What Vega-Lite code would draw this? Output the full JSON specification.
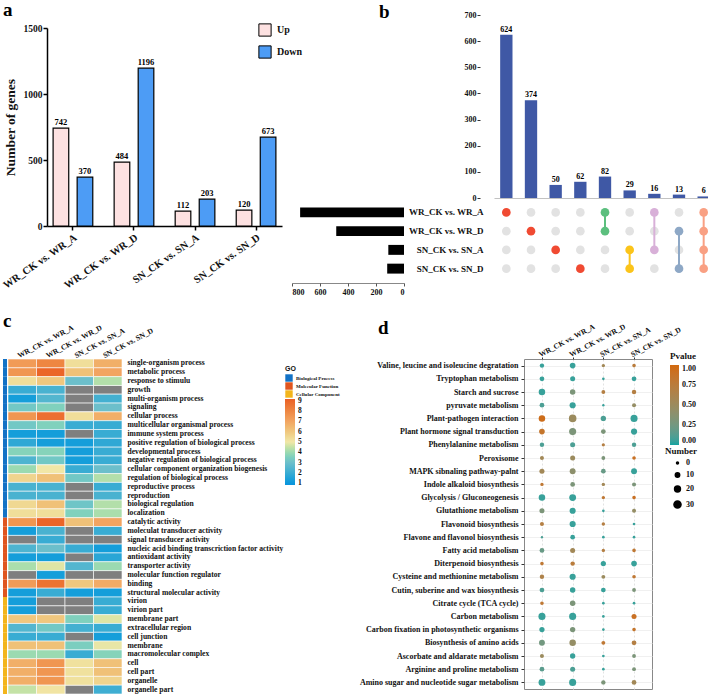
{
"$schema":"https://vega.github.io/schema/vega-lite/v6.json",
"padding":{"left":1,"top":0,"right":0,"bottom":0},
"datasets":{
"deg":[
{"comp":"WR_CK vs. WR_A","dir":"Up","n":742},{"comp":"WR_CK vs. WR_A","dir":"Down","n":370},
{"comp":"WR_CK vs. WR_D","dir":"Up","n":484},{"comp":"WR_CK vs. WR_D","dir":"Down","n":1196},
{"comp":"SN_CK vs. SN_A","dir":"Up","n":112},{"comp":"SN_CK vs. SN_A","dir":"Down","n":203},
{"comp":"SN_CK vs. SN_D","dir":"Up","n":120},{"comp":"SN_CK vs. SN_D","dir":"Down","n":673}],
"up":[
{"id":1,"count":624,"WR_CK vs. WR_A":1,"WR_CK vs. WR_D":0,"SN_CK vs. SN_A":0,"SN_CK vs. SN_D":0},
{"id":2,"count":374,"WR_CK vs. WR_A":0,"WR_CK vs. WR_D":1,"SN_CK vs. SN_A":0,"SN_CK vs. SN_D":0},
{"id":3,"count":50,"WR_CK vs. WR_A":0,"WR_CK vs. WR_D":0,"SN_CK vs. SN_A":1,"SN_CK vs. SN_D":0},
{"id":4,"count":62,"WR_CK vs. WR_A":0,"WR_CK vs. WR_D":0,"SN_CK vs. SN_A":0,"SN_CK vs. SN_D":1},
{"id":5,"count":82,"WR_CK vs. WR_A":1,"WR_CK vs. WR_D":1,"SN_CK vs. SN_A":0,"SN_CK vs. SN_D":0},
{"id":6,"count":29,"WR_CK vs. WR_A":0,"WR_CK vs. WR_D":0,"SN_CK vs. SN_A":1,"SN_CK vs. SN_D":1},
{"id":7,"count":16,"WR_CK vs. WR_A":1,"WR_CK vs. WR_D":0,"SN_CK vs. SN_A":1,"SN_CK vs. SN_D":0},
{"id":8,"count":13,"WR_CK vs. WR_A":0,"WR_CK vs. WR_D":1,"SN_CK vs. SN_A":0,"SN_CK vs. SN_D":1},
{"id":9,"count":6,"WR_CK vs. WR_A":1,"WR_CK vs. WR_D":1,"SN_CK vs. SN_A":1,"SN_CK vs. SN_D":1}],
"sets":[
{"set":"WR_CK vs. WR_A","size":742},{"set":"WR_CK vs. WR_D","size":484},
{"set":"SN_CK vs. SN_A","size":112},{"set":"SN_CK vs. SN_D","size":120}],
"links":[
{"id":5,"set":"WR_CK vs. WR_A","to":"WR_CK vs. WR_D"},
{"id":6,"set":"SN_CK vs. SN_A","to":"SN_CK vs. SN_D"},
{"id":7,"set":"WR_CK vs. WR_A","to":"SN_CK vs. SN_A"},
{"id":8,"set":"WR_CK vs. WR_D","to":"SN_CK vs. SN_D"},
{"id":9,"set":"WR_CK vs. WR_A","to":"SN_CK vs. SN_D"}],
"go":[
{"term":"single-organism process","cat":"Biological Process","WR_CK vs. WR_A":7.3,"WR_CK vs. WR_D":8,"SN_CK vs. SN_A":5.3,"SN_CK vs. SN_D":6.7},
{"term":"metabolic process","cat":"Biological Process","WR_CK vs. WR_A":7.5,"WR_CK vs. WR_D":9,"SN_CK vs. SN_A":6.2,"SN_CK vs. SN_D":7},
{"term":"response to stimulu","cat":"Biological Process","WR_CK vs. WR_A":5.3,"WR_CK vs. WR_D":6,"SN_CK vs. SN_A":3,"SN_CK vs. SN_D":4.3},
{"term":"growth","cat":"Biological Process","WR_CK vs. WR_A":2,"WR_CK vs. WR_D":2.3,"SN_CK vs. SN_A":null,"SN_CK vs. SN_D":null},
{"term":"multi-organism process","cat":"Biological Process","WR_CK vs. WR_A":1.3,"WR_CK vs. WR_D":2.5,"SN_CK vs. SN_A":null,"SN_CK vs. SN_D":2.2},
{"term":"signaling","cat":"Biological Process","WR_CK vs. WR_A":3.3,"WR_CK vs. WR_D":3.6,"SN_CK vs. SN_A":null,"SN_CK vs. SN_D":3},
{"term":"cellular process","cat":"Biological Process","WR_CK vs. WR_A":7.5,"WR_CK vs. WR_D":8.7,"SN_CK vs. SN_A":5.3,"SN_CK vs. SN_D":6.7},
{"term":"multicellular organismal process","cat":"Biological Process","WR_CK vs. WR_A":3.3,"WR_CK vs. WR_D":3.6,"SN_CK vs. SN_A":2,"SN_CK vs. SN_D":2},
{"term":"immune system process","cat":"Biological Process","WR_CK vs. WR_A":1.3,"WR_CK vs. WR_D":1.3,"SN_CK vs. SN_A":null,"SN_CK vs. SN_D":2},
{"term":"positive regulation of biological process","cat":"Biological Process","WR_CK vs. WR_A":1.8,"WR_CK vs. WR_D":1.3,"SN_CK vs. SN_A":1.3,"SN_CK vs. SN_D":1.8},
{"term":"developmental process","cat":"Biological Process","WR_CK vs. WR_A":3.7,"WR_CK vs. WR_D":3.7,"SN_CK vs. SN_A":1.3,"SN_CK vs. SN_D":2},
{"term":"negative regulation of biological process","cat":"Biological Process","WR_CK vs. WR_A":2.4,"WR_CK vs. WR_D":3.3,"SN_CK vs. SN_A":1.3,"SN_CK vs. SN_D":2},
{"term":"cellular component organization biogenesis","cat":"Biological Process","WR_CK vs. WR_A":4,"WR_CK vs. WR_D":5,"SN_CK vs. SN_A":2,"SN_CK vs. SN_D":3},
{"term":"regulation of biological process","cat":"Biological Process","WR_CK vs. WR_A":5.6,"WR_CK vs. WR_D":6.2,"SN_CK vs. SN_A":3.3,"SN_CK vs. SN_D":4.3},
{"term":"reproductive process","cat":"Biological Process","WR_CK vs. WR_A":2.3,"WR_CK vs. WR_D":2.3,"SN_CK vs. SN_A":null,"SN_CK vs. SN_D":2},
{"term":"reproduction","cat":"Biological Process","WR_CK vs. WR_A":2.3,"WR_CK vs. WR_D":2.3,"SN_CK vs. SN_A":null,"SN_CK vs. SN_D":2.3},
{"term":"biological regulation","cat":"Biological Process","WR_CK vs. WR_A":5.5,"WR_CK vs. WR_D":6.2,"SN_CK vs. SN_A":3.2,"SN_CK vs. SN_D":4.3},
{"term":"localization","cat":"Biological Process","WR_CK vs. WR_A":5.3,"WR_CK vs. WR_D":5.3,"SN_CK vs. SN_A":3.6,"SN_CK vs. SN_D":4.2},
{"term":"catalytic activity","cat":"Molecular Function","WR_CK vs. WR_A":7.5,"WR_CK vs. WR_D":9,"SN_CK vs. SN_A":6.2,"SN_CK vs. SN_D":7},
{"term":"moleculat transducer activity","cat":"Molecular Function","WR_CK vs. WR_A":1.3,"WR_CK vs. WR_D":2.3,"SN_CK vs. SN_A":null,"SN_CK vs. SN_D":2},
{"term":"signal transducer activity","cat":"Molecular Function","WR_CK vs. WR_A":null,"WR_CK vs. WR_D":2,"SN_CK vs. SN_A":null,"SN_CK vs. SN_D":null},
{"term":"nucleic acid binding transcriction factor activity","cat":"Molecular Function","WR_CK vs. WR_A":2.4,"WR_CK vs. WR_D":3,"SN_CK vs. SN_A":2,"SN_CK vs. SN_D":1.3},
{"term":"antioxidant activity","cat":"Molecular Function","WR_CK vs. WR_A":1.3,"WR_CK vs. WR_D":1.3,"SN_CK vs. SN_A":null,"SN_CK vs. SN_D":1.7},
{"term":"transporter activity","cat":"Molecular Function","WR_CK vs. WR_A":4.2,"WR_CK vs. WR_D":4.8,"SN_CK vs. SN_A":2.5,"SN_CK vs. SN_D":4},
{"term":"molecular function regulator","cat":"Molecular Function","WR_CK vs. WR_A":null,"WR_CK vs. WR_D":1.3,"SN_CK vs. SN_A":null,"SN_CK vs. SN_D":null},
{"term":"binding","cat":"Molecular Function","WR_CK vs. WR_A":7.3,"WR_CK vs. WR_D":8.6,"SN_CK vs. SN_A":6,"SN_CK vs. SN_D":6.8},
{"term":"structural molecular  activity","cat":"Molecular Function","WR_CK vs. WR_A":1.3,"WR_CK vs. WR_D":2,"SN_CK vs. SN_A":1.3,"SN_CK vs. SN_D":1.3},
{"term":"virion","cat":"Cellular Component","WR_CK vs. WR_A":1.3,"WR_CK vs. WR_D":null,"SN_CK vs. SN_A":null,"SN_CK vs. SN_D":2},
{"term":"virion part","cat":"Cellular Component","WR_CK vs. WR_A":1.3,"WR_CK vs. WR_D":null,"SN_CK vs. SN_A":null,"SN_CK vs. SN_D":2},
{"term":"membrane part","cat":"Cellular Component","WR_CK vs. WR_A":6,"WR_CK vs. WR_D":6,"SN_CK vs. SN_A":3.6,"SN_CK vs. SN_D":4.8},
{"term":"extracellular region","cat":"Cellular Component","WR_CK vs. WR_A":2.5,"WR_CK vs. WR_D":3.3,"SN_CK vs. SN_A":2.2,"SN_CK vs. SN_D":2},
{"term":"cell junction","cat":"Cellular Component","WR_CK vs. WR_A":2,"WR_CK vs. WR_D":2,"SN_CK vs. SN_A":null,"SN_CK vs. SN_D":1.3},
{"term":"membrane","cat":"Cellular Component","WR_CK vs. WR_A":6.2,"WR_CK vs. WR_D":6.2,"SN_CK vs. SN_A":3.5,"SN_CK vs. SN_D":4.9},
{"term":"macromolecular complex","cat":"Cellular Component","WR_CK vs. WR_A":4,"WR_CK vs. WR_D":4,"SN_CK vs. SN_A":2,"SN_CK vs. SN_D":3.7},
{"term":"cell","cat":"Cellular Component","WR_CK vs. WR_A":6.7,"WR_CK vs. WR_D":7.5,"SN_CK vs. SN_A":5.2,"SN_CK vs. SN_D":6.2},
{"term":"cell part","cat":"Cellular Component","WR_CK vs. WR_A":6.7,"WR_CK vs. WR_D":7.5,"SN_CK vs. SN_A":5.2,"SN_CK vs. SN_D":6.2},
{"term":"organelle","cat":"Cellular Component","WR_CK vs. WR_A":6.7,"WR_CK vs. WR_D":7.5,"SN_CK vs. SN_A":5.2,"SN_CK vs. SN_D":5.6},
{"term":"organelle part","cat":"Cellular Component","WR_CK vs. WR_A":4.5,"WR_CK vs. WR_D":5.1,"SN_CK vs. SN_A":null,"SN_CK vs. SN_D":2.1}],
"kegg":[
{"path":"Valine, leucine and isoleucine degratation","comp":"WR_CK vs. WR_A","n":10,"p":0.05},
{"path":"Valine, leucine and isoleucine degratation","comp":"WR_CK vs. WR_D","n":18,"p":0.05},
{"path":"Valine, leucine and isoleucine degratation","comp":"SN_CK vs. SN_A","n":5,"p":0.55},
{"path":"Valine, leucine and isoleucine degratation","comp":"SN_CK vs. SN_D","n":6,"p":0.75},
{"path":"Tryptophan metabolism","comp":"WR_CK vs. WR_A","n":12,"p":0.05},
{"path":"Tryptophan metabolism","comp":"WR_CK vs. WR_D","n":14,"p":0.05},
{"path":"Tryptophan metabolism","comp":"SN_CK vs. SN_A","n":2,"p":0.05},
{"path":"Tryptophan metabolism","comp":"SN_CK vs. SN_D","n":12,"p":0.05},
{"path":"Starch and sucrose","comp":"WR_CK vs. WR_A","n":25,"p":0.05},
{"path":"Starch and sucrose","comp":"WR_CK vs. WR_D","n":17,"p":0.3},
{"path":"Starch and sucrose","comp":"SN_CK vs. SN_A","n":7,"p":0.7},
{"path":"Starch and sucrose","comp":"SN_CK vs. SN_D","n":10,"p":0.7},
{"path":"pyruvate metabolism","comp":"WR_CK vs. WR_A","n":12,"p":0.1},
{"path":"pyruvate metabolism","comp":"WR_CK vs. WR_D","n":22,"p":0.05},
{"path":"pyruvate metabolism","comp":"SN_CK vs. SN_A","n":1,"p":0.05},
{"path":"pyruvate metabolism","comp":"SN_CK vs. SN_D","n":8,"p":0.45},
{"path":"Plant-pathogen interaction","comp":"WR_CK vs. WR_A","n":25,"p":0.95},
{"path":"Plant-pathogen interaction","comp":"WR_CK vs. WR_D","n":35,"p":0.5},
{"path":"Plant-pathogen interaction","comp":"SN_CK vs. SN_A","n":16,"p":0.1},
{"path":"Plant-pathogen interaction","comp":"SN_CK vs. SN_D","n":30,"p":0.05},
{"path":"Plant hormone signal transduction","comp":"WR_CK vs. WR_A","n":18,"p":0.85},
{"path":"Plant hormone signal transduction","comp":"WR_CK vs. WR_D","n":30,"p":0.3},
{"path":"Plant hormone signal transduction","comp":"SN_CK vs. SN_A","n":12,"p":0.3},
{"path":"Plant hormone signal transduction","comp":"SN_CK vs. SN_D","n":22,"p":0.05},
{"path":"Phenylalanine metabolism","comp":"WR_CK vs. WR_A","n":10,"p":0.1},
{"path":"Phenylalanine metabolism","comp":"WR_CK vs. WR_D","n":14,"p":0.1},
{"path":"Phenylalanine metabolism","comp":"SN_CK vs. SN_A","n":4,"p":0.7},
{"path":"Phenylalanine metabolism","comp":"SN_CK vs. SN_D","n":10,"p":0.1},
{"path":"Peroxisome","comp":"WR_CK vs. WR_A","n":8,"p":0.55},
{"path":"Peroxisome","comp":"WR_CK vs. WR_D","n":14,"p":0.5},
{"path":"Peroxisome","comp":"SN_CK vs. SN_A","n":7,"p":0.3},
{"path":"Peroxisome","comp":"SN_CK vs. SN_D","n":6,"p":0.9},
{"path":"MAPK sibnaling pathway-palnt","comp":"WR_CK vs. WR_A","n":14,"p":0.55},
{"path":"MAPK sibnaling pathway-palnt","comp":"WR_CK vs. WR_D","n":20,"p":0.4},
{"path":"MAPK sibnaling pathway-palnt","comp":"SN_CK vs. SN_A","n":12,"p":0.2},
{"path":"MAPK sibnaling pathway-palnt","comp":"SN_CK vs. SN_D","n":20,"p":0.05},
{"path":"Indole alkaloid biosynthesis","comp":"WR_CK vs. WR_A","n":5,"p":0.8},
{"path":"Indole alkaloid biosynthesis","comp":"WR_CK vs. WR_D","n":12,"p":0.3},
{"path":"Indole alkaloid biosynthesis","comp":"SN_CK vs. SN_A","n":5,"p":0.55},
{"path":"Indole alkaloid biosynthesis","comp":"SN_CK vs. SN_D","n":8,"p":0.3},
{"path":"Glycolysis / Gluconeogenesis","comp":"WR_CK vs. WR_A","n":25,"p":0.05},
{"path":"Glycolysis / Gluconeogenesis","comp":"WR_CK vs. WR_D","n":28,"p":0.05},
{"path":"Glycolysis / Gluconeogenesis","comp":"SN_CK vs. SN_A","n":5,"p":0.8},
{"path":"Glycolysis / Gluconeogenesis","comp":"SN_CK vs. SN_D","n":6,"p":0.9},
{"path":"Glutathione metabolism","comp":"WR_CK vs. WR_A","n":14,"p":0.3},
{"path":"Glutathione metabolism","comp":"WR_CK vs. WR_D","n":22,"p":0.05},
{"path":"Glutathione metabolism","comp":"SN_CK vs. SN_A","n":2,"p":0.05},
{"path":"Glutathione metabolism","comp":"SN_CK vs. SN_D","n":8,"p":0.45},
{"path":"Flavonoid biosynthesis","comp":"WR_CK vs. WR_A","n":8,"p":0.7},
{"path":"Flavonoid biosynthesis","comp":"WR_CK vs. WR_D","n":22,"p":0.05},
{"path":"Flavonoid biosynthesis","comp":"SN_CK vs. SN_A","n":5,"p":0.7},
{"path":"Flavonoid biosynthesis","comp":"SN_CK vs. SN_D","n":2,"p":0.05},
{"path":"Flavone and flavonol biosynthesis","comp":"WR_CK vs. WR_A","n":1,"p":0.1},
{"path":"Flavone and flavonol biosynthesis","comp":"WR_CK vs. WR_D","n":12,"p":0.05},
{"path":"Flavone and flavonol biosynthesis","comp":"SN_CK vs. SN_A","n":2,"p":0.05},
{"path":"Flavone and flavonol biosynthesis","comp":"SN_CK vs. SN_D","n":2,"p":0.05},
{"path":"Fatty acid metabolism","comp":"WR_CK vs. WR_A","n":12,"p":0.2},
{"path":"Fatty acid metabolism","comp":"WR_CK vs. WR_D","n":14,"p":0.55},
{"path":"Fatty acid metabolism","comp":"SN_CK vs. SN_A","n":5,"p":0.7},
{"path":"Fatty acid metabolism","comp":"SN_CK vs. SN_D","n":6,"p":0.8},
{"path":"Diterpenoid biosynthesis","comp":"WR_CK vs. WR_A","n":6,"p":0.8},
{"path":"Diterpenoid biosynthesis","comp":"WR_CK vs. WR_D","n":10,"p":0.75},
{"path":"Diterpenoid biosynthesis","comp":"SN_CK vs. SN_A","n":15,"p":0.05},
{"path":"Diterpenoid biosynthesis","comp":"SN_CK vs. SN_D","n":18,"p":0.05},
{"path":"Cysteine and methionine metabolism","comp":"WR_CK vs. WR_A","n":10,"p":0.65},
{"path":"Cysteine and methionine metabolism","comp":"WR_CK vs. WR_D","n":22,"p":0.05},
{"path":"Cysteine and methionine metabolism","comp":"SN_CK vs. SN_A","n":7,"p":0.5},
{"path":"Cysteine and methionine metabolism","comp":"SN_CK vs. SN_D","n":6,"p":0.8},
{"path":"Cutin, suberine and wax biosynthesis","comp":"WR_CK vs. WR_A","n":12,"p":0.1},
{"path":"Cutin, suberine and wax biosynthesis","comp":"WR_CK vs. WR_D","n":17,"p":0.05},
{"path":"Cutin, suberine and wax biosynthesis","comp":"SN_CK vs. SN_A","n":12,"p":0.05},
{"path":"Cutin, suberine and wax biosynthesis","comp":"SN_CK vs. SN_D","n":7,"p":0.3},
{"path":"Citrate cycle (TCA cycle)","comp":"WR_CK vs. WR_A","n":6,"p":0.8},
{"path":"Citrate cycle (TCA cycle)","comp":"WR_CK vs. WR_D","n":17,"p":0.3},
{"path":"Citrate cycle (TCA cycle)","comp":"SN_CK vs. SN_A","n":2,"p":0.05},
{"path":"Citrate cycle (TCA cycle)","comp":"SN_CK vs. SN_D","n":2,"p":0.05},
{"path":"Carbon metabolism","comp":"WR_CK vs. WR_A","n":30,"p":0.05},
{"path":"Carbon metabolism","comp":"WR_CK vs. WR_D","n":30,"p":0.05},
{"path":"Carbon metabolism","comp":"SN_CK vs. SN_A","n":2,"p":0.05},
{"path":"Carbon metabolism","comp":"SN_CK vs. SN_D","n":14,"p":0.9},
{"path":"Carbon fixation in photosynthetic organisms","comp":"WR_CK vs. WR_A","n":15,"p":0.05},
{"path":"Carbon fixation in photosynthetic organisms","comp":"WR_CK vs. WR_D","n":16,"p":0.3},
{"path":"Carbon fixation in photosynthetic organisms","comp":"SN_CK vs. SN_A","n":2,"p":0.05},
{"path":"Carbon fixation in photosynthetic organisms","comp":"SN_CK vs. SN_D","n":6,"p":0.85},
{"path":"Biosynthesis of amino acids","comp":"WR_CK vs. WR_A","n":20,"p":0.25},
{"path":"Biosynthesis of amino acids","comp":"WR_CK vs. WR_D","n":25,"p":0.45},
{"path":"Biosynthesis of amino acids","comp":"SN_CK vs. SN_A","n":7,"p":0.8},
{"path":"Biosynthesis of amino acids","comp":"SN_CK vs. SN_D","n":12,"p":0.7},
{"path":"Ascorbate and aldarate metabolism","comp":"WR_CK vs. WR_A","n":8,"p":0.5},
{"path":"Ascorbate and aldarate metabolism","comp":"WR_CK vs. WR_D","n":16,"p":0.05},
{"path":"Ascorbate and aldarate metabolism","comp":"SN_CK vs. SN_A","n":2,"p":0.05},
{"path":"Ascorbate and aldarate metabolism","comp":"SN_CK vs. SN_D","n":7,"p":0.3},
{"path":"Arginine and proline metabolism","comp":"WR_CK vs. WR_A","n":12,"p":0.15},
{"path":"Arginine and proline metabolism","comp":"WR_CK vs. WR_D","n":14,"p":0.1},
{"path":"Arginine and proline metabolism","comp":"SN_CK vs. SN_A","n":2,"p":0.05},
{"path":"Arginine and proline metabolism","comp":"SN_CK vs. SN_D","n":7,"p":0.3},
{"path":"Amino sugar and nucleotide sugar metabolism","comp":"WR_CK vs. WR_A","n":28,"p":0.05},
{"path":"Amino sugar and nucleotide sugar metabolism","comp":"WR_CK vs. WR_D","n":30,"p":0.05},
{"path":"Amino sugar and nucleotide sugar metabolism","comp":"SN_CK vs. SN_A","n":10,"p":0.3},
{"path":"Amino sugar and nucleotide sugar metabolism","comp":"SN_CK vs. SN_D","n":12,"p":0.55}]
},
"columns":7,
"align":"each",
"bounds":"flush",
"spacing":{"row":0,"column":0},
"resolve":{"scale":{"color":"independent","fill":"independent","size":"independent","stroke":"independent"}},
"concat":[
 {"width":5,"height":1,"title":{"text":"a","dy":11},"data":{"values":[{"s":0}]},"mark":{"type":"point","opacity":0},"encoding":{}},
 {"width":114,"height":1,"data":{"values":[{"s":0}]},"mark":{"type":"point","opacity":0},"encoding":{}},
 {"width":160,"height":188,"data":{"name":"deg"},
  "encoding":{
   "x":{"field":"comp","type":"nominal","sort":["WR_CK vs. WR_A","WR_CK vs. WR_D","SN_CK vs. SN_A","SN_CK vs. SN_D"],"scale":{"range":[-75,160],"paddingInner":0.35,"paddingOuter":0.1},
    "axis":{"title":null,"offset":23,"labelAngle":-35,"labelAlign":"right","labelBaseline":"top","labelFontSize":10.5,"labelPadding":2,"domainColor":"#000","domainWidth":1.5,"tickColor":"#000","tickWidth":1.5,"tickSize":4,"labelLimit":200}},
   "xOffset":{"field":"dir","type":"nominal","sort":["Up","Down"],"scale":{"paddingInner":0.35}},
   "y":{"field":"n","type":"quantitative","scale":{"domain":[0,1500],"range":[211,13]},
    "axis":{"values":[0,500,1000,1500],"format":"d","offset":75,"title":"Number of genes","titleFontSize":13.5,"titlePadding":6,"labelFontSize":9.5,"labelPadding":1,"domainColor":"#000","domainWidth":1.5,"tickColor":"#000","tickWidth":1.5,"tickSize":4}}
  },
  "layer":[
   {"mark":{"type":"bar","stroke":"#000","strokeWidth":1.2},
    "encoding":{"fill":{"field":"dir","type":"nominal","scale":{"domain":["Up","Down"],"range":["#fde1e1","#4d9cf5"]},
     "legend":{"title":null,"orient":"none","legendX":136,"legendY":8,"direction":"vertical","symbolType":"square","symbolSize":150,"symbolStrokeColor":"#000","symbolStrokeWidth":1,"labelFontSize":10,"rowPadding":4,"labelOffset":5}}}},
   {"mark":{"type":"text","dy":-6,"fontSize":8.5,"fontWeight":"bold","font":"Liberation Serif"},"encoding":{"text":{"field":"n","type":"quantitative"}}}
  ]},
 {"width":10,"height":1,"data":{"values":[{"s":0}]},"mark":{"type":"point","opacity":0},"encoding":{}},
 {"width":112,"height":188,"title":{"text":"b","dx":87,"dy":11},"data":{"values":[{"s":0}]},"mark":{"type":"point","opacity":0},"encoding":{}},
 {"width":120,"height":1,"data":{"values":[{"s":0}]},"mark":{"type":"point","opacity":0},"encoding":{}},
 {"width":192,"height":183,"data":{"name":"up"},
  "encoding":{
   "x":{"field":"id","type":"ordinal","scale":{"range":[-30,192],"paddingInner":0.5,"paddingOuter":0.25},"axis":{"title":null,"labels":false,"ticks":false,"domainColor":"#999","domainWidth":0.6}},
   "y":{"field":"count","type":"quantitative","scale":{"domain":[0,700]},"axis":{"values":[0,100,200,300,400,500,600,700],"title":null,"labelFontSize":8,"domain":false,"tickSize":3,"tickColor":"#333","offset":44,"labelPadding":1}}
  },
  "layer":[
   {"mark":{"type":"bar","color":"#3f58a5"}},
   {"mark":{"type":"text","dy":-5,"fontSize":8,"fontWeight":"bold","font":"Liberation Serif"},"encoding":{"text":{"field":"count","type":"quantitative"}}}
  ]},

 {"width":5,"height":1,"data":{"values":[{"s":0}]},"mark":{"type":"point","opacity":0},"encoding":{}},
 {"width":114,"height":156,"data":{"values":[{"s":0}]},"mark":{"type":"point","opacity":0},"encoding":{}},
 {"width":160,"height":1,"data":{"values":[{"s":0}]},"mark":{"type":"point","opacity":0},"encoding":{}},
 {"width":10,"height":1,"data":{"values":[{"s":0}]},"mark":{"type":"point","opacity":0},"encoding":{}},
 {"width":112,"height":75,"data":{"name":"sets"},"mark":{"type":"bar","color":"#000"},
  "encoding":{
   "y":{"field":"set","type":"nominal","scale":{"domain":["WR_CK vs. WR_A","WR_CK vs. WR_D","SN_CK vs. SN_A","SN_CK vs. SN_D"],"paddingInner":0.47,"paddingOuter":0.235},"axis":null},
   "x":{"field":"size","type":"quantitative","scale":{"domain":[0,800],"reverse":true},
    "axis":{"values":[0,200,400,600,800],"title":null,"labelFontSize":8,"offset":5,"domainColor":"#555","domainWidth":0.7,"tickColor":"#555","tickSize":3,"labelPadding":2}}
  }},
 {"width":120,"height":1,"data":{"values":[{"s":0}]},"mark":{"type":"point","opacity":0},"encoding":{}},
 {"width":192,"height":75,
  "encoding":{
   "x":{"field":"id","type":"ordinal","scale":{"domain":[1,2,3,4,5,6,7,8,9],"range":[-30,192],"paddingInner":0.5,"paddingOuter":0.25},"axis":null},
   "y":{"field":"set","type":"nominal","scale":{"domain":["WR_CK vs. WR_A","WR_CK vs. WR_D","SN_CK vs. SN_A","SN_CK vs. SN_D"],"paddingInner":0,"paddingOuter":0},"axis":{"title":null,"domain":false,"ticks":false,"labelFontSize":9,"labelPadding":41}}
  },
  "layer":[
   {"data":{"name":"up"},"transform":[{"fold":["WR_CK vs\\. WR_A","WR_CK vs\\. WR_D","SN_CK vs\\. SN_A","SN_CK vs\\. SN_D"],"as":["set","on"]},{"filter":"datum.on == 0"}],
    "mark":{"type":"circle","size":75,"color":"#e2e2e2","opacity":1}},
   {"data":{"name":"links"},"mark":{"type":"rule","strokeWidth":2},
    "encoding":{"y2":{"field":"to"},"color":{"field":"id","type":"nominal","scale":{"domain":[1,2,3,4,5,6,7,8,9],"range":["#f04a32","#f04a32","#f04a32","#f04a32","#5cbf7e","#fbc41a","#d8b0d8","#8ea8c6","#f9a083"]},"legend":null}}},
   {"data":{"name":"up"},"transform":[{"fold":["WR_CK vs\\. WR_A","WR_CK vs\\. WR_D","SN_CK vs\\. SN_A","SN_CK vs\\. SN_D"],"as":["set","on"]},{"filter":"datum.on == 1"}],
    "mark":{"type":"circle","size":75,"opacity":1},
    "encoding":{"color":{"field":"id","type":"nominal","scale":{"domain":[1,2,3,4,5,6,7,8,9],"range":["#f04a32","#f04a32","#f04a32","#f04a32","#5cbf7e","#fbc41a","#d8b0d8","#8ea8c6","#f9a083"]},"legend":null}}}
  ]},

 {"width":4,"height":335,"data":{"name":"go"},"title":{"text":"c","offset":28},
  "mark":"rect",
  "encoding":{
   "y":{"field":"term","type":"nominal","sort":null,"scale":{"paddingInner":0,"paddingOuter":0},"axis":null},
   "color":{"field":"cat","type":"nominal","scale":{"domain":["Biological Process","Molecular Function","Cellular Component"],"range":["#1372c6","#e0551f","#f3b51b"]},
    "legend":{"title":"GO","orient":"none","legendX":282,"legendY":6,"direction":"vertical","titleFont":"Liberation Sans","titleFontSize":7,"titleFontWeight":"bold","titlePadding":2,"symbolType":"square","symbolSize":55,"symbolStrokeWidth":0,"labelFontSize":5,"rowPadding":0,"labelOffset":3}}
  }},
 {"width":114,"height":335,"data":{"name":"go"},
  "transform":[{"fold":["WR_CK vs\\. WR_A","WR_CK vs\\. WR_D","SN_CK vs\\. SN_A","SN_CK vs\\. SN_D"],"as":["comp","v"]}],
  "encoding":{
   "x":{"field":"comp","type":"nominal","sort":["WR_CK vs. WR_A","WR_CK vs. WR_D","SN_CK vs. SN_A","SN_CK vs. SN_D"],"scale":{"paddingInner":0,"paddingOuter":0},
    "axis":{"orient":"top","title":null,"labelAngle":-28,"labelAlign":"left","labelBaseline":"middle","labelFontSize":7.5,"domain":false,"ticks":false,"labelPadding":3,"labelOffset":-4}},
   "y":{"field":"term","type":"nominal","sort":null,"scale":{"paddingInner":0,"paddingOuter":0},
    "axis":{"orient":"right","title":null,"domain":false,"ticks":false,"labelFontSize":7.6,"labelPadding":5,"labelLimit":300}}
  },
  "layer":[
   {"mark":{"type":"rect","color":"#7f7f7f","stroke":"#ffffff","strokeWidth":0.6}},
   {"transform":[{"filter":"isValid(datum.v)"}],"mark":{"type":"rect","stroke":"#ffffff","strokeWidth":0.6},
    "encoding":{"color":{"field":"v","type":"quantitative","scale":{"domain":[0.85,3,5,7,9.15],"range":["#0b93dd","#6cbfcb","#f1e7a7","#f2a461","#ea5f25"]},
     "legend":{"title":null,"orient":"none","legendX":277,"legendY":40,"direction":"vertical","gradientLength":86,"gradientThickness":10,"values":[1,2,3,4,5,6,7,8,9],"labelOverlap":false,"labelFontSize":7.5,"labelOffset":3,"gradientStrokeWidth":0}}}}
  ]},
 {"width":160,"height":1,"data":{"values":[{"s":0}]},"mark":{"type":"point","opacity":0},"encoding":{}},
 {"width":10,"height":1,"data":{"values":[{"s":0}]},"mark":{"type":"point","opacity":0},"encoding":{}},
 {"width":112,"height":1,"data":{"values":[{"s":0}]},"mark":{"type":"point","opacity":0},"encoding":{}},
 {"width":120,"height":1,"title":{"text":"d","dx":-26,"offset":19},"data":{"values":[{"s":0}]},"mark":{"type":"point","opacity":0},"encoding":{}},
 {"width":128,"height":330,"data":{"name":"kegg"},
  "view":{"stroke":"#888888","strokeWidth":1},
  "mark":{"type":"circle","opacity":1},
  "encoding":{
   "x":{"field":"comp","type":"nominal","sort":["WR_CK vs. WR_A","WR_CK vs. WR_D","SN_CK vs. SN_A","SN_CK vs. SN_D"],"scale":{"type":"point","padding":0.585},
    "axis":{"orient":"top","title":null,"labelAngle":-28,"labelAlign":"left","labelBaseline":"middle","labelFontSize":7.5,"domain":false,"tickSize":2,"tickColor":"#333","labelPadding":2,"grid":true,"gridColor":"#e2e2e2","gridDash":[2,2],"labelOffset":-3}},
   "y":{"field":"path","type":"nominal","sort":null,"scale":{"type":"point","padding":0.5},
    "axis":{"title":null,"domain":false,"tickSize":3,"tickColor":"#333","labelFontSize":8,"labelPadding":3,"grid":true,"gridColor":"#ececec","gridWidth":0.8,"labelLimit":300}},
   "size":{"field":"n","type":"quantitative","scale":{"domain":[0,30],"range":[4,50]},
    "legend":{"title":"Number","orient":"none","legendX":141,"legendY":88,"direction":"vertical","values":[0,10,20,30],"labelFontSize":8,"titleFontSize":9,"symbolType":"circle","symbolFillColor":"#000","symbolStrokeColor":"#000","symbolOffset":8,"rowPadding":2,"titlePadding":3,
     "encode":{"symbols":{"update":{"fill":{"value":"#000"},"stroke":{"value":"#000"},"opacity":{"value":1}}}}}},
   "color":{"field":"p","type":"quantitative","scale":{"domain":[0,1],"range":["#13a3a1","#d2690e"],"interpolate":"lab"},
    "legend":{"title":"Pvalue","orient":"none","legendX":146,"legendY":-7,"direction":"vertical","gradientLength":80,"gradientThickness":9,"values":[0,0.25,0.5,0.75,1],"format":".2f","labelFontSize":8,"titleFontSize":9,"titlePadding":4,"gradientStrokeWidth":0,"labelOffset":3}}
  }}
],
"config":{
 "view":{"stroke":null},
 "font":"Liberation Serif",
 "axis":{"labelFont":"Liberation Serif","labelFontWeight":"bold","labelColor":"#111","titleFont":"Liberation Serif","titleFontWeight":"bold","titleColor":"#111","grid":false},
 "legend":{"labelFont":"Liberation Serif","labelFontWeight":"bold","labelColor":"#111","titleFont":"Liberation Serif","titleFontWeight":"bold","titleColor":"#111"},
 "title":{"font":"Liberation Serif","fontWeight":"bold","fontSize":19,"anchor":"start","frame":"group","color":"#000","offset":0}
}
}
